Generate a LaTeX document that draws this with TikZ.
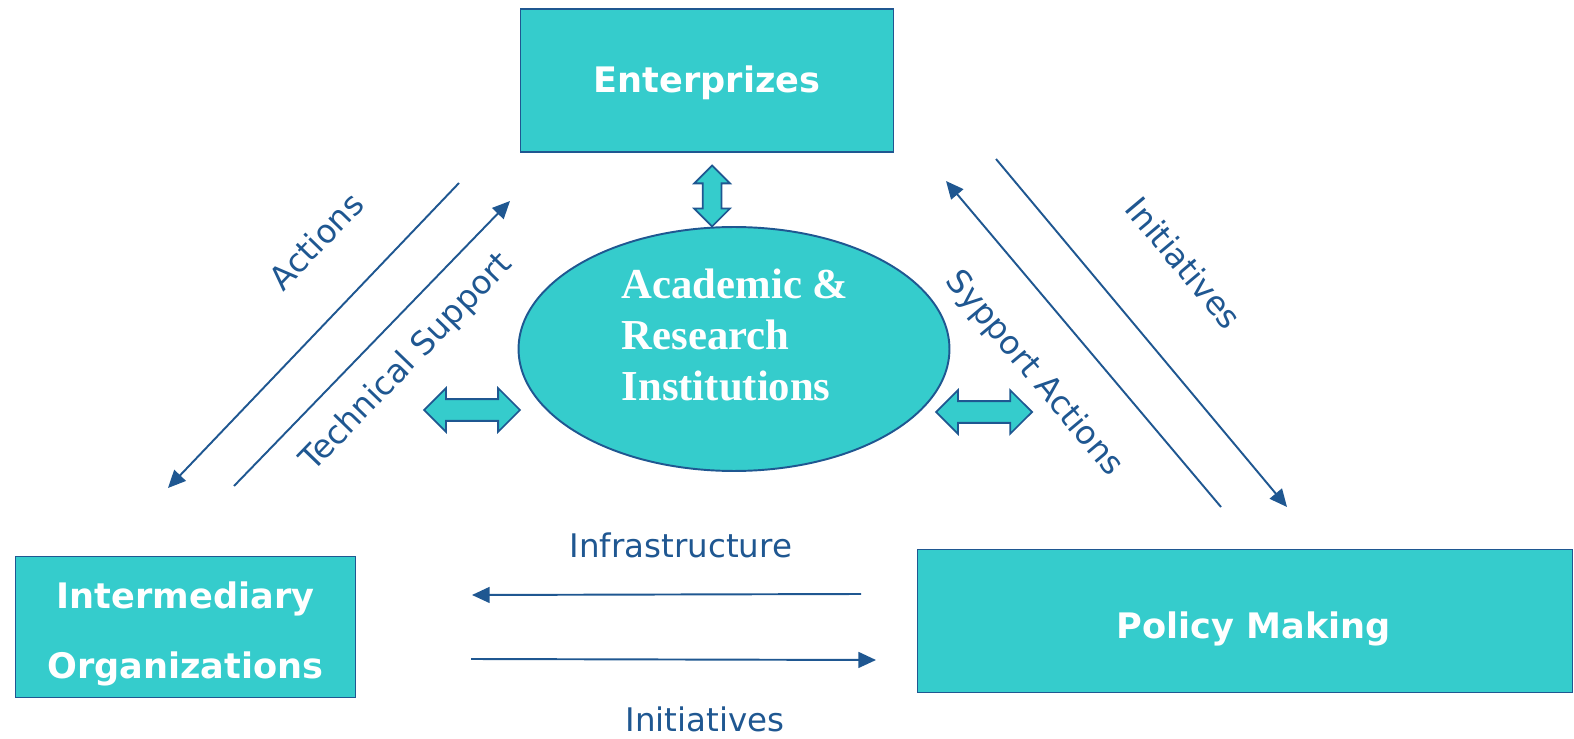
\documentclass[tikz,border=0pt]{standalone}
\usepackage{fontspec}
\setmainfont{DejaVu Sans}
\newfontfamily\acadfont{Liberation Serif}
\usetikzlibrary{shapes.geometric,shapes.arrows,arrows.meta}
\definecolor{tealfill}{HTML}{35CCCC}
\definecolor{navyline}{HTML}{1F5791}

\tikzset{
    box/.style={draw=navyline, line width=1pt, fill=tealfill, text=white,
        font=\bfseries\fontsize{20}{40}\selectfont, align=center, inner sep=0pt},
    boxtext/.style={text=white, font=\bfseries\fontsize{20}{40}\selectfont, align=center, inner sep=0pt},
    link/.style={draw=navyline, line width=1.1pt, -{Triangle[length=10pt,width=9pt]}},
    lbl/.style={text=navyline, font=\fontsize{18.5}{22}\selectfont, inner sep=0pt},
    dbl/.style={double arrow, draw=navyline, line width=1pt, fill=tealfill,
        inner xsep=0pt, double arrow tip angle=90},
}

\begin{document}
\begin{tikzpicture}[x=0.02cm, y=-0.02cm]
    \useasboundingbox (0,0) rectangle (1574,739);
    % boxes
    \node[box, minimum width=7.46cm, minimum height=2.86cm, text height=18pt] (ent) at (707,80.5) {Enterprizes};
    \node[box, minimum width=6.8cm, minimum height=2.82cm] (inter) at (185.5,627) {};
    \node[boxtext] (intertxt) at (185.5,634) {Intermediary\\Organizations};
    \node[box, minimum width=13.1cm, minimum height=2.86cm, text height=24pt] (policy) at (1245,621) {\hspace*{10pt}Policy Making};
    \node[ellipse, draw=navyline, line width=1.1pt, fill=tealfill, minimum width=8.62cm, minimum height=4.88cm] (acad) at (734,349) {};
    \node[text=white, align=left, inner sep=0pt, font=\acadfont\bfseries\fontsize{24.3}{29}\selectfont] (acadlbl) at (735,335) {Academic \&\\Research\\Institutions};
    % double arrows
    \node[dbl, rotate=90, minimum height=1.22cm, inner ysep=0.17cm, double arrow head extend=0.17cm] (dup) at (712,196) {};
    \node[dbl, minimum height=1.92cm, inner ysep=0.2cm, double arrow head extend=0.22cm] (dleft) at (472,410) {};
    \node[dbl, minimum height=1.92cm, inner ysep=0.2cm, double arrow head extend=0.22cm] (dright) at (984,412) {};
    % free ends
    \coordinate (actA) at (459,183);
    \coordinate (actB) at (168,488);
    \coordinate (tecA) at (234,486);
    \coordinate (tecB) at (510,201);
    \coordinate (iniA) at (996,159);
    \coordinate (iniB) at (1287,507);
    \coordinate (supA) at (1221,507);
    \coordinate (supB) at (946,181);
    \coordinate (infA) at (861,594);
    \coordinate (infB) at (472,595);
    \coordinate (inbA) at (471,659);
    \coordinate (inbB) at (876,660);
    % connectors
    \draw[link] (actA) -- (actB);
    \draw[link] (tecA) -- (tecB);
    \draw[link] (iniA) -- (iniB);
    \draw[link] (supA) -- (supB);
    \draw[link] (infA) -- (infB);
    \draw[link] (inbA) -- (inbB);
    % labels
    \node[lbl, rotate=46] (actlbl) at (316,241) {Actions};
    \node[lbl, rotate=46] (teclbl) at (407,363) {Technical Support};
    \node[lbl, rotate=-50] (inilbl) at (1184,263) {Initiatives};
    \node[lbl, rotate=-50] (suplbl) at (1034,374) {Sypport Actions};
    \node[lbl] (inflbl) at (681,545) {Infrastructure};
    \node[lbl] (inblbl) at (705,719) {Initiatives};
\end{tikzpicture}
\end{document}
